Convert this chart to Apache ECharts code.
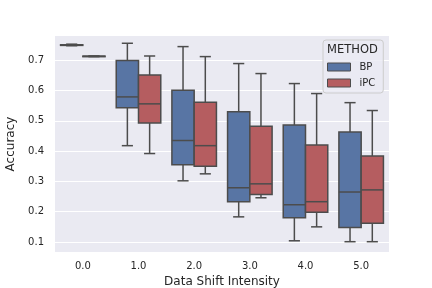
<!DOCTYPE html>
<html>
<head>
<meta charset="utf-8">
<script src="https://cdn.jsdelivr.net/npm/echarts@6/dist/echarts.min.js"></script>
<style>html,body{margin:0;padding:0;background:#fff;}#c{width:432px;height:288px;}</style>
</head>
<body>
<div id="c"></div>
<script>
// Categories (x axis)
const categories = ['0.0', '1.0', '2.0', '3.0', '4.0', '5.0'];
// Box statistics per category: [min, q1, median, q3, max]
const bpStats = [
  [0.748, 0.749, 0.750, 0.751, 0.753],
  [0.418, 0.543, 0.579, 0.699, 0.756],
  [0.302, 0.355, 0.435, 0.601, 0.745],
  [0.183, 0.233, 0.279, 0.530, 0.689],
  [0.104, 0.180, 0.223, 0.486, 0.623],
  [0.101, 0.148, 0.265, 0.463, 0.560]
];
const ipcStats = [
  [0.712, 0.7125, 0.713, 0.7135, 0.714],
  [0.392, 0.493, 0.556, 0.651, 0.714],
  [0.325, 0.350, 0.418, 0.561, 0.712],
  [0.246, 0.257, 0.292, 0.482, 0.656],
  [0.150, 0.198, 0.233, 0.420, 0.590],
  [0.101, 0.162, 0.272, 0.384, 0.534]
];
const yTicks = [0.1, 0.2, 0.3, 0.4, 0.5, 0.6, 0.7];
const seriesNames = ['BP', 'iPC'];
const seriesColors = ['#5875a4', '#b55d60'];

const lineColor = '#4c4c4c';
const font = 'DejaVu Sans';

function toData(stats) {
  return stats.map((s, i) => [i, s[0], s[1], s[2], s[3], s[4]]);
}

function makeRender(offsetFrac, fill) {
  return function (params, api) {
    const cat = api.value(0);
    const bw = api.size([1, 0])[0];
    const w = bw * 0.4;
    const cx = api.coord([cat, api.value(3)])[0] + offsetFrac * bw;
    const yMin = api.coord([cat, api.value(1)])[1];
    const yQ1 = api.coord([cat, api.value(2)])[1];
    const yMed = api.coord([cat, api.value(3)])[1];
    const yQ3 = api.coord([cat, api.value(4)])[1];
    const yMax = api.coord([cat, api.value(5)])[1];
    const ls = { stroke: lineColor, lineWidth: 1.5 };
    const capW = w * 0.5;
    return {
      type: 'group',
      children: [
        { type: 'line', shape: { x1: cx, y1: yQ3, x2: cx, y2: yMax }, style: ls },
        { type: 'line', shape: { x1: cx, y1: yQ1, x2: cx, y2: yMin }, style: ls },
        { type: 'line', shape: { x1: cx - capW / 2, y1: yMax, x2: cx + capW / 2, y2: yMax }, style: ls },
        { type: 'line', shape: { x1: cx - capW / 2, y1: yMin, x2: cx + capW / 2, y2: yMin }, style: ls },
        { type: 'rect', shape: { x: cx - w / 2, y: yQ3, width: w, height: Math.max(yQ1 - yQ3, 0.5) },
          style: { fill: fill, stroke: lineColor, lineWidth: 1.5 } },
        { type: 'line', shape: { x1: cx - w / 2, y1: yMed, x2: cx + w / 2, y2: yMed }, style: ls }
      ]
    };
  };
}

const chart = echarts.init(document.getElementById('c'), null, { renderer: 'canvas' });
chart.setOption({
  backgroundColor: '#ffffff',
  animation: false,
  grid: { left: 55, right: 43, top: 36, bottom: 36, show: true, backgroundColor: '#eaeaf2',
    borderWidth: 0, containLabel: false, outerBoundsMode: 'none' },
  xAxis: {
    type: 'category',
    data: categories,
    axisLine: { show: false },
    axisTick: { show: false },
    splitLine: { show: false },
    axisLabel: { color: '#262626', fontFamily: font, fontSize: 10, margin: 9 },
    name: 'Data Shift Intensity',
    nameLocation: 'middle',
    nameGap: 22,
    nameTextStyle: { color: '#262626', fontFamily: font, fontSize: 12 }
  },
  yAxis: {
    type: 'value',
    min: 0.067,
    max: 0.78,
    axisLine: { show: false },
    axisTick: { show: false, customValues: yTicks },
    axisLabel: { color: '#262626', fontFamily: font, fontSize: 10, margin: 11,
      customValues: yTicks, formatter: v => v.toFixed(1) },
    splitLine: { show: true, lineStyle: { color: '#ffffff', width: 1 } },
    name: 'Accuracy',
    nameLocation: 'middle',
    nameGap: 31,
    nameTextStyle: { color: '#262626', fontFamily: font, fontSize: 12 }
  },
  legend: {
    data: seriesNames,
    orient: 'vertical',
    left: 323,
    top: 40,
    padding: [21, 8, 4, 4],
    itemWidth: 23,
    itemHeight: 8,
    itemGap: 4,
    icon: 'rect',
    backgroundColor: 'rgba(234,234,242,0.8)',
    borderColor: '#cccccc',
    borderWidth: 1,
    borderRadius: 3,
    itemStyle: { borderColor: lineColor, borderWidth: 1 },
    textStyle: { color: '#262626', fontFamily: font, fontSize: 10, lineHeight: 12, padding: [0, 0, 0, 4] }
  },
  graphic: [{
    type: 'text', x: 352.5, y: 50, z: 100,
    style: { text: 'METHOD', fill: '#262626', font: '11.5px "DejaVu Sans"', align: 'center', verticalAlign: 'middle' }
  }],
  series: [
    { name: seriesNames[0], type: 'custom', renderItem: makeRender(-0.2, seriesColors[0]),
      itemStyle: { color: seriesColors[0] }, encode: { x: 0, y: [1, 2, 3, 4, 5] }, data: toData(bpStats) },
    { name: seriesNames[1], type: 'custom', renderItem: makeRender(0.2, seriesColors[1]),
      itemStyle: { color: seriesColors[1] }, encode: { x: 0, y: [1, 2, 3, 4, 5] }, data: toData(ipcStats) }
  ]
});
</script>
</body>
</html>
